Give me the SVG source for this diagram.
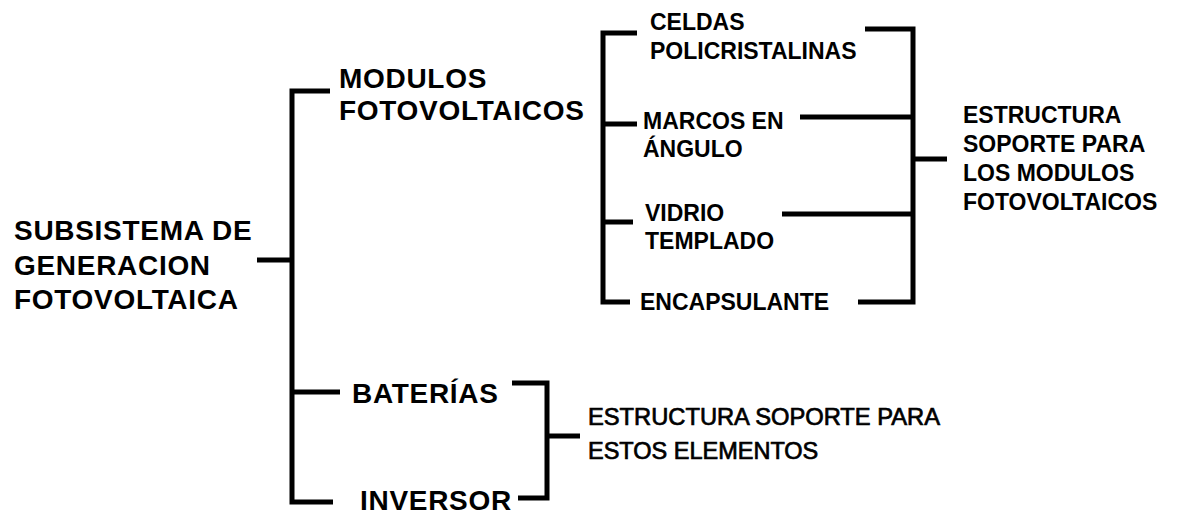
<svg xmlns="http://www.w3.org/2000/svg" width="1178" height="514" viewBox="0 0 1178 514">
<style>
.c{fill:none;stroke:#000;stroke-width:5;stroke-linejoin:miter;stroke-linecap:butt}
.m{font-family:"Liberation Sans",Arial,sans-serif;font-weight:bold;font-size:28px;letter-spacing:0.7px;fill:#000}
.s{font-family:"Liberation Sans",Arial,sans-serif;font-weight:bold;font-size:23px;fill:#000}
.n{font-family:"Liberation Sans",Arial,sans-serif;font-size:23.5px;fill:#000;stroke:#000;stroke-width:0.7}
</style>
<rect width="1178" height="514" fill="#fff"/>
<g id="connectors">
<polyline class="c" points="257,260 292,260"/>
<polyline class="c" points="330,91 292,91 292,502 333,502"/>
<polyline class="c" points="292,392 340,392"/>
<polyline class="c" points="637,33 603,33 603,302 630,302"/>
<polyline class="c" points="603,124 637,124"/>
<polyline class="c" points="603,222 633,222"/>
<polyline class="c" points="865,29 913,29 913,302 858,302"/>
<polyline class="c" points="800,117 913,117"/>
<polyline class="c" points="782,214 913,214"/>
<polyline class="c" points="913,159 947,159"/>
<polyline class="c" points="512,383 547,383 547,498 518,498"/>
<polyline class="c" points="547,436 580,436"/>
</g>
<g id="subsistema"><text class="m" x="14" y="240">SUBSISTEMA DE</text><text class="m" x="14" y="275">GENERACION</text><text class="m" x="14" y="309">FOTOVOLTAICA</text></g>
<g id="modulos"><text class="m" x="339" y="88">MODULOS</text><text class="m" x="339" y="120">FOTOVOLTAICOS</text></g>
<g id="baterias"><text class="m" x="352" y="403">BATERÍAS</text></g>
<g id="inversor"><text class="m" x="360" y="510">INVERSOR</text></g>
<g id="celdas"><text class="s" x="650" y="30">CELDAS</text><text class="s" x="650" y="59">POLICRISTALINAS</text></g>
<g id="marcos"><text class="s" x="643" y="129">MARCOS EN</text><text class="s" x="643" y="157">ÁNGULO</text></g>
<g id="vidrio"><text class="s" x="645" y="221">VIDRIO</text><text class="s" x="645" y="249">TEMPLADO</text></g>
<g id="encapsulante"><text class="s" x="640" y="310">ENCAPSULANTE</text></g>
<g id="estructura-modulos"><text class="s" x="963" y="123">ESTRUCTURA</text><text class="s" x="963" y="152">SOPORTE PARA</text><text class="s" x="963" y="181">LOS MODULOS</text><text class="s" x="963" y="210">FOTOVOLTAICOS</text></g>
<g id="estructura-elementos"><text class="n" x="588" y="425" textLength="352" lengthAdjust="spacingAndGlyphs">ESTRUCTURA SOPORTE PARA</text><text class="n" x="588" y="459">ESTOS ELEMENTOS</text></g>
</svg>
